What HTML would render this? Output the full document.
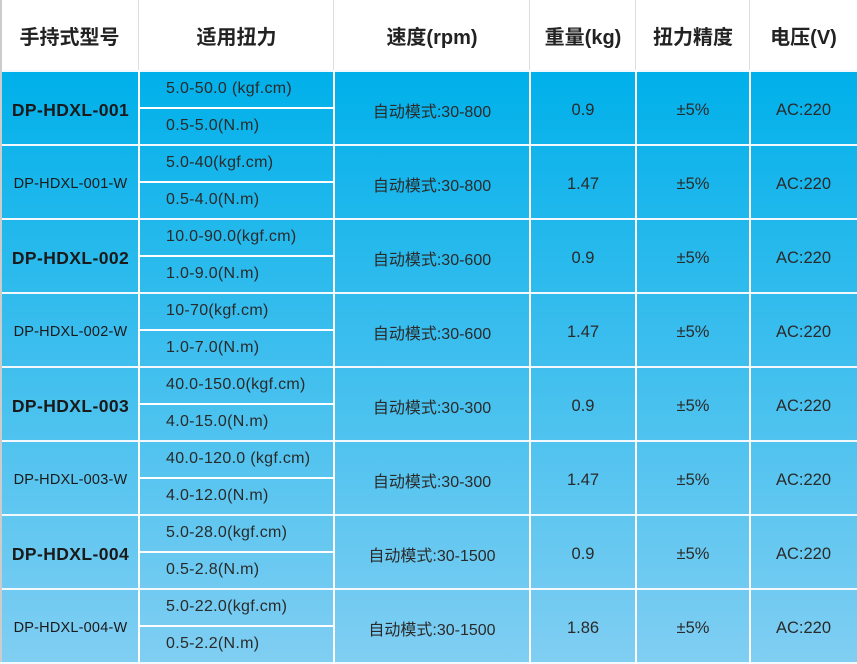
<!DOCTYPE html><html><head><meta charset="utf-8"><style>
body{margin:0;width:857px;height:664px;overflow:hidden;background:#fff;font-family:"Liberation Sans","Noto Sans CJK SC",sans-serif;color:#2a2a2a;position:relative}
.a{position:absolute;display:flex;align-items:center;justify-content:center;white-space:nowrap}
.h{font-weight:bold;font-size:20px;color:#222}
.r{position:absolute;left:0;width:857px}
.v{position:absolute;top:0;width:2px;background:#fff}
.t{position:absolute;left:166px;font-size:16px;white-space:nowrap;letter-spacing:0.3px}
</style></head><body>
<div id="c"></div>
<script>
var cols=[0,139,334,530,636,750,857];
var heads=["手持式型号","适用扭力","速度(rpm)","重量(kg)","扭力精度","电压(V)"];
var h='';
for(var i=0;i<6;i++)h+='<div class="a h" style="left:'+cols[i]+'px;width:'+(cols[i+1]-cols[i])+'px;top:0;height:70px">'+heads[i]+'</div>';
h+='<div style="position:absolute;left:0;top:0;width:2px;height:664px;background:#ccc"></div>';
for(var i=1;i<6;i++)h+='<div style="position:absolute;left:'+(cols[i]-1)+'px;top:0;width:1px;height:70px;background:#ddd"></div>';
var rows=[["DP-HDXL-001",1,"5.0-50.0 (kgf.cm)","0.5-5.0(N.m)","自动模式:30-800","0.9"],
["DP-HDXL-001-W",0,"5.0-40(kgf.cm)","0.5-4.0(N.m)","自动模式:30-800","1.47"],
["DP-HDXL-002",1,"10.0-90.0(kgf.cm)","1.0-9.0(N.m)","自动模式:30-600","0.9"],
["DP-HDXL-002-W",0,"10-70(kgf.cm)","1.0-7.0(N.m)","自动模式:30-600","1.47"],
["DP-HDXL-003",1,"40.0-150.0(kgf.cm)","4.0-15.0(N.m)","自动模式:30-300","0.9"],
["DP-HDXL-003-W",0,"40.0-120.0 (kgf.cm)","4.0-12.0(N.m)","自动模式:30-300","1.47"],
["DP-HDXL-004",1,"5.0-28.0(kgf.cm)","0.5-2.8(N.m)","自动模式:30-1500","0.9"],
["DP-HDXL-004-W",0,"5.0-22.0(kgf.cm)","0.5-2.2(N.m)","自动模式:30-1500","1.86"]];
function mix(a,b,t){return 'rgb('+a.map(function(x,i){return Math.round(x+(b[i]-x)*t)}).join(',')+')'}
var A=[0,176,234],B=[128,206,242];
for(var r=0;r<8;r++){
 var y=70+r*74;
 var c1=mix(A,B,r/8),c2=mix(A,B,(r+1)/8);
 h+='<div class="r" style="top:'+y+'px;height:74px;background:linear-gradient('+c1+','+c2+');border-top:2px solid #f2f8fc;box-sizing:border-box;left:2px;width:855px"></div>';
 var R=rows[r];
 h+='<div class="a" style="left:2px;width:137px;top:'+(y+4)+'px;height:72px;'+(R[1]?'font-size:17.5px;font-weight:bold;letter-spacing:0.4px;color:#1a1a1a':'font-size:14.5px;letter-spacing:0.2px;color:#1a1a1a')+'">'+R[0]+'</div>';
 h+='<div style="position:absolute;left:139px;width:195px;top:'+(y+37)+'px;height:2px;background:#fff"></div>';
 h+='<div class="t" style="top:'+(y+10)+'px">'+R[2]+'</div><div class="t" style="top:'+(y+47)+'px">'+R[3]+'</div>';
 h+='<div class="a" style="left:334px;width:196px;top:'+(y+4)+'px;height:72px;font-size:16px">'+R[4]+'</div>';
 h+='<div class="a" style="left:530px;width:106px;top:'+(y+4)+'px;height:72px;font-size:16.5px">'+R[5]+'</div>';
 h+='<div class="a" style="left:636px;width:114px;top:'+(y+4)+'px;height:72px;font-size:16.5px">±5%</div>';
 h+='<div class="a" style="left:750px;width:107px;top:'+(y+4)+'px;height:72px;font-size:16.5px">AC:220</div>';
}
h+='<div class="r" style="top:662px;height:2px;background:#f2f8fc"></div>';
for(var i=1;i<6;i++)h+='<div class="v" style="left:'+(cols[i]-1)+'px;top:70px;height:594px"></div>';
document.getElementById('c').innerHTML=h;
</script>
</body></html>
